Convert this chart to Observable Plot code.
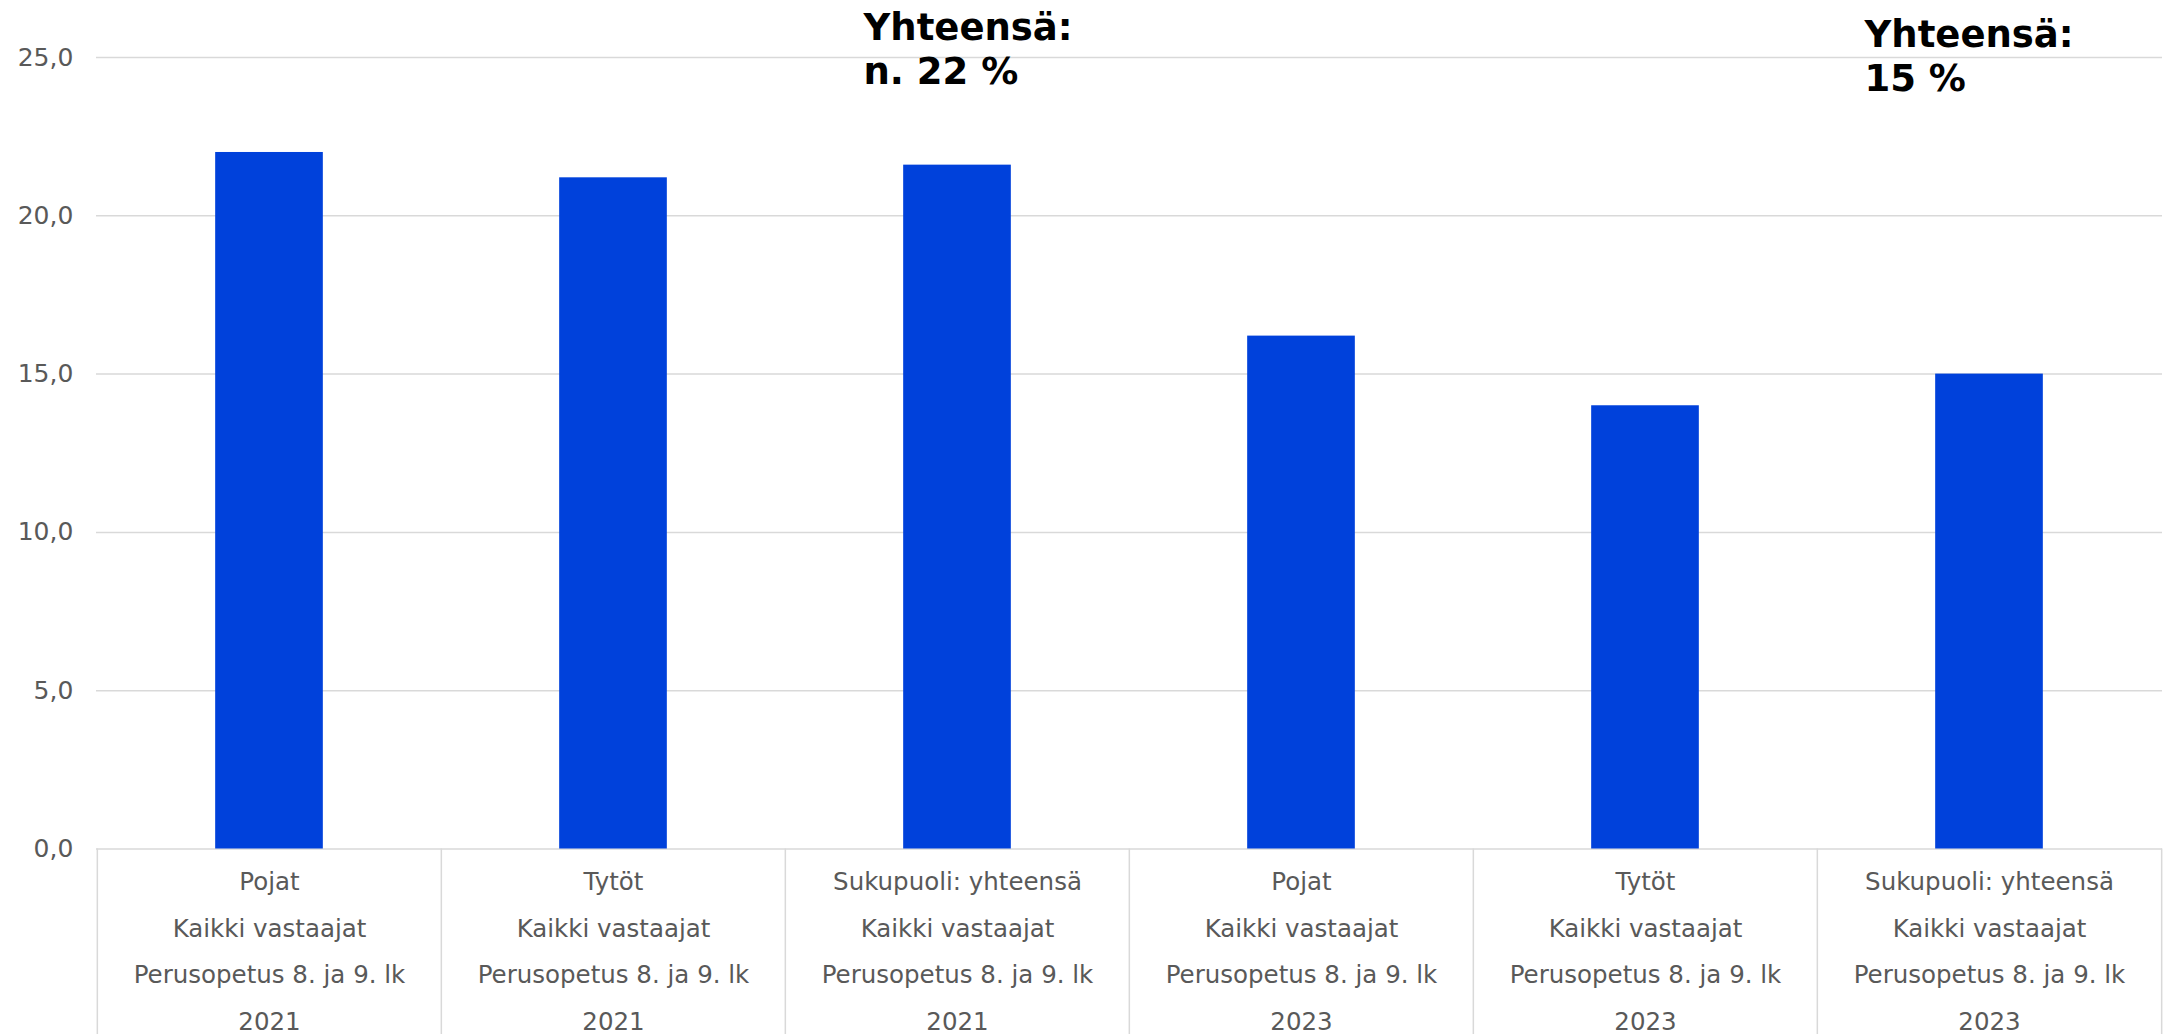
<!DOCTYPE html>
<html>
<head>
<meta charset="utf-8">
<script src="https://cdn.jsdelivr.net/npm/d3@7"></script>
<script src="https://cdn.jsdelivr.net/npm/@observablehq/plot@0.6"></script>
<style>
  html, body { margin: 0; padding: 0; background: #fff; }
  #chart svg { display: block; }
</style>
</head>
<body>
<div id="chart"></div>
<script>
// ---- Data ----
const genders = ["Pojat", "Tytöt", "Sukupuoli: yhteensä", "Pojat", "Tytöt", "Sukupuoli: yhteensä"];
const groups = ["Kaikki vastaajat", "Kaikki vastaajat", "Kaikki vastaajat", "Kaikki vastaajat", "Kaikki vastaajat", "Kaikki vastaajat"];
const levels = ["Perusopetus 8. ja 9. lk", "Perusopetus 8. ja 9. lk", "Perusopetus 8. ja 9. lk", "Perusopetus 8. ja 9. lk", "Perusopetus 8. ja 9. lk", "Perusopetus 8. ja 9. lk"];
const years = ["2021", "2021", "2021", "2023", "2023", "2023"];
const values = [22.0, 21.2, 21.6, 16.2, 14.0, 15.0];
const yTicks = [0, 5, 10, 15, 20, 25];
const annotations = ["Yhteensä:\nn. 22 %", "Yhteensä:\n15 %"];
const annotationCats = [2, 5]; // index of the category each note belongs to

// ---- Build table ----
const keys = genders.map((_, i) => `c${i}`);
const rows = keys.map((k, i) => ({
  key: k,
  label: `${genders[i]}\n${groups[i]}\n${levels[i]}\n${years[i]}`,
  value: values[i]
}));

const W = 2170, H = 1034;
const mL = 96, mR = 8, mT = 57, mB = 185.5;
const step = (W - mL - mR) / keys.length;
const gray = "#595959";
const lineCol = "#d9d9d9";
const font = "'DejaVu Sans', Verdana, sans-serif";

const chart = Plot.plot({
  width: W,
  height: H,
  marginLeft: mL,
  marginRight: mR,
  marginTop: mT,
  marginBottom: mB,
  style: { fontFamily: font, background: "#fff", overflow: "visible" },
  x: { domain: keys, padding: 0, axis: null },
  y: { domain: [0, 25], axis: null },
  marks: [
    Plot.gridY(yTicks.filter(d => d > 0), { stroke: lineCol, strokeOpacity: 1, strokeWidth: 1.5 }),
    Plot.ruleY([0], { stroke: lineCol, strokeWidth: 1.5 }),
    // category dividers
    Plot.ruleX(keys, { x: d => d, dx: -step / 2, y1: 0, y2: 0, insetBottom: -200, stroke: lineCol, strokeWidth: 1.5 }),
    Plot.ruleX([keys[keys.length - 1]], { x: d => d, dx: step / 2, y1: 0, y2: 0, insetBottom: -200, stroke: lineCol, strokeWidth: 1.5 }),
    Plot.barY(rows, { x: "key", y: "value", fill: "#0041db", insetLeft: (step - 108) / 2, insetRight: (step - 108) / 2 }),
    // y tick labels
    Plot.text(yTicks, {
      x: () => keys[0], y: d => d, dx: -step / 2 - 24,
      text: d => d.toFixed(1).replace(".", ","),
      textAnchor: "end", fill: gray, fontSize: 25
    }),
    // x category labels
    Plot.text(rows, {
      x: "key", y: () => 0, dy: 96, text: "label",
      lineAnchor: "middle", lineHeight: 1.9, fill: gray, fontSize: 24.5
    }),
    // annotations
    Plot.text([annotations[0]], {
      x: () => keys[annotationCats[0]], y: () => 25, dx: -94, dy: -49.5,
      text: d => d, textAnchor: "start", lineAnchor: "top", lineHeight: 1.2,
      fontSize: 37, fontWeight: "bold", fill: "#000"
    }),
    Plot.text([annotations[1]], {
      x: () => keys[annotationCats[1]], y: () => 25, dx: -125, dy: -42,
      text: d => d, textAnchor: "start", lineAnchor: "top", lineHeight: 1.2,
      fontSize: 37, fontWeight: "bold", fill: "#000"
    })
  ]
});

document.getElementById("chart").appendChild(chart);
</script>
</body>
</html>
